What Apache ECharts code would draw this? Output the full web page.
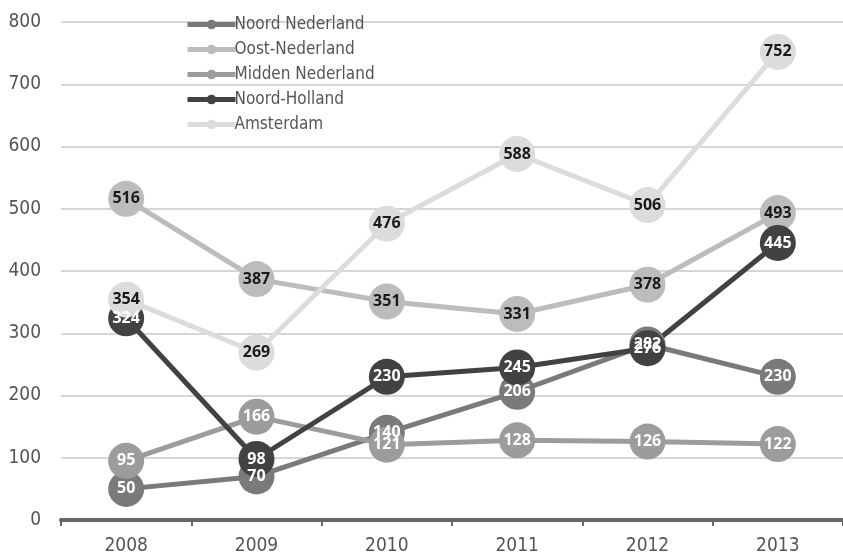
<!DOCTYPE html>
<html>
<head>
<meta charset="utf-8">
<script src="https://cdn.jsdelivr.net/npm/echarts@6/dist/echarts.min.js"></script>
<style>
  html, body { margin: 0; padding: 0; background: #fff; }
  #chart { width: 843px; height: 558px; }
</style>
</head>
<body>
<div id="chart"></div>
<script>
const years = ['2008', '2009', '2010', '2011', '2012', '2013'];
const yTicks = [0, 100, 200, 300, 400, 500, 600, 700, 800];

const noordNederland = [50, 70, 140, 206, 282, 230];
const oostNederland = [516, 387, 351, 331, 378, 493];
const middenNederland = [95, 166, 121, 128, 126, 122];
const noordHolland = [324, 98, 230, 245, 276, 445];
const amsterdam = [354, 269, 476, 588, 506, 752];

const seriesDefs = [
    { name: 'Noord Nederland', data: noordNederland, color: '#7a7a7d', text: '#fff' },
    { name: 'Oost-Nederland', data: oostNederland, color: '#bcbcbe', text: '#1a1a1a' },
    { name: 'Midden Nederland', data: middenNederland, color: '#9c9c9e', text: '#fff' },
    { name: 'Noord-Holland', data: noordHolland, color: '#424242', text: '#fff' },
    { name: 'Amsterdam', data: amsterdam, color: '#dcdcde', text: '#1a1a1a' },
];

const chart = echarts.init(document.getElementById('chart'));
chart.setOption({
    animation: false,
    textStyle: { fontFamily: 'DejaVu Sans Condensed, DejaVu Sans' },
    legend: {
        orient: 'vertical',
        left: 180,
        top: 10,
        itemWidth: 48,
        itemHeight: 12,
        itemGap: 6,
        lineStyle: { width: 5 },
        textStyle: { fontSize: 17, color: '#555', lineHeight: 19, padding: [0, 0, 0, -6] },
        data: seriesDefs.map(s => s.name),
    },
    grid: { left: 61, right: 0, top: 22, bottom: 38 },
    xAxis: {
        type: 'category',
        data: years,
        boundaryGap: true,
        axisLine: { lineStyle: { color: '#666', width: 4 } },
        axisTick: { show: true, length: 6, lineStyle: { color: '#666', width: 2 } },
        axisLabel: { fontSize: 19, color: '#555', margin: 17 },
    },
    yAxis: {
        type: 'value',
        min: yTicks[0],
        max: yTicks[yTicks.length - 1],
        interval: 100,
        axisLine: { show: false },
        axisTick: { show: false },
        axisLabel: { fontSize: 19, color: '#555', margin: 20 },
        splitLine: { lineStyle: { color: '#d6d6d6', width: 2 } },
    },
    series: seriesDefs.map(s => ({
        name: s.name,
        type: 'line',
        data: s.data,
        color: s.color,
        symbol: 'circle',
        symbolSize: 36,
        lineStyle: { width: 5, color: s.color },
        itemStyle: { color: s.color },
        label: {
            show: true,
            position: 'inside',
            fontSize: 16,
            fontWeight: 'bold',
            fontFamily: 'Open Sans',
            color: s.text,
        },
        emphasis: { disabled: true },
    })),
});
</script>
</body>
</html>
